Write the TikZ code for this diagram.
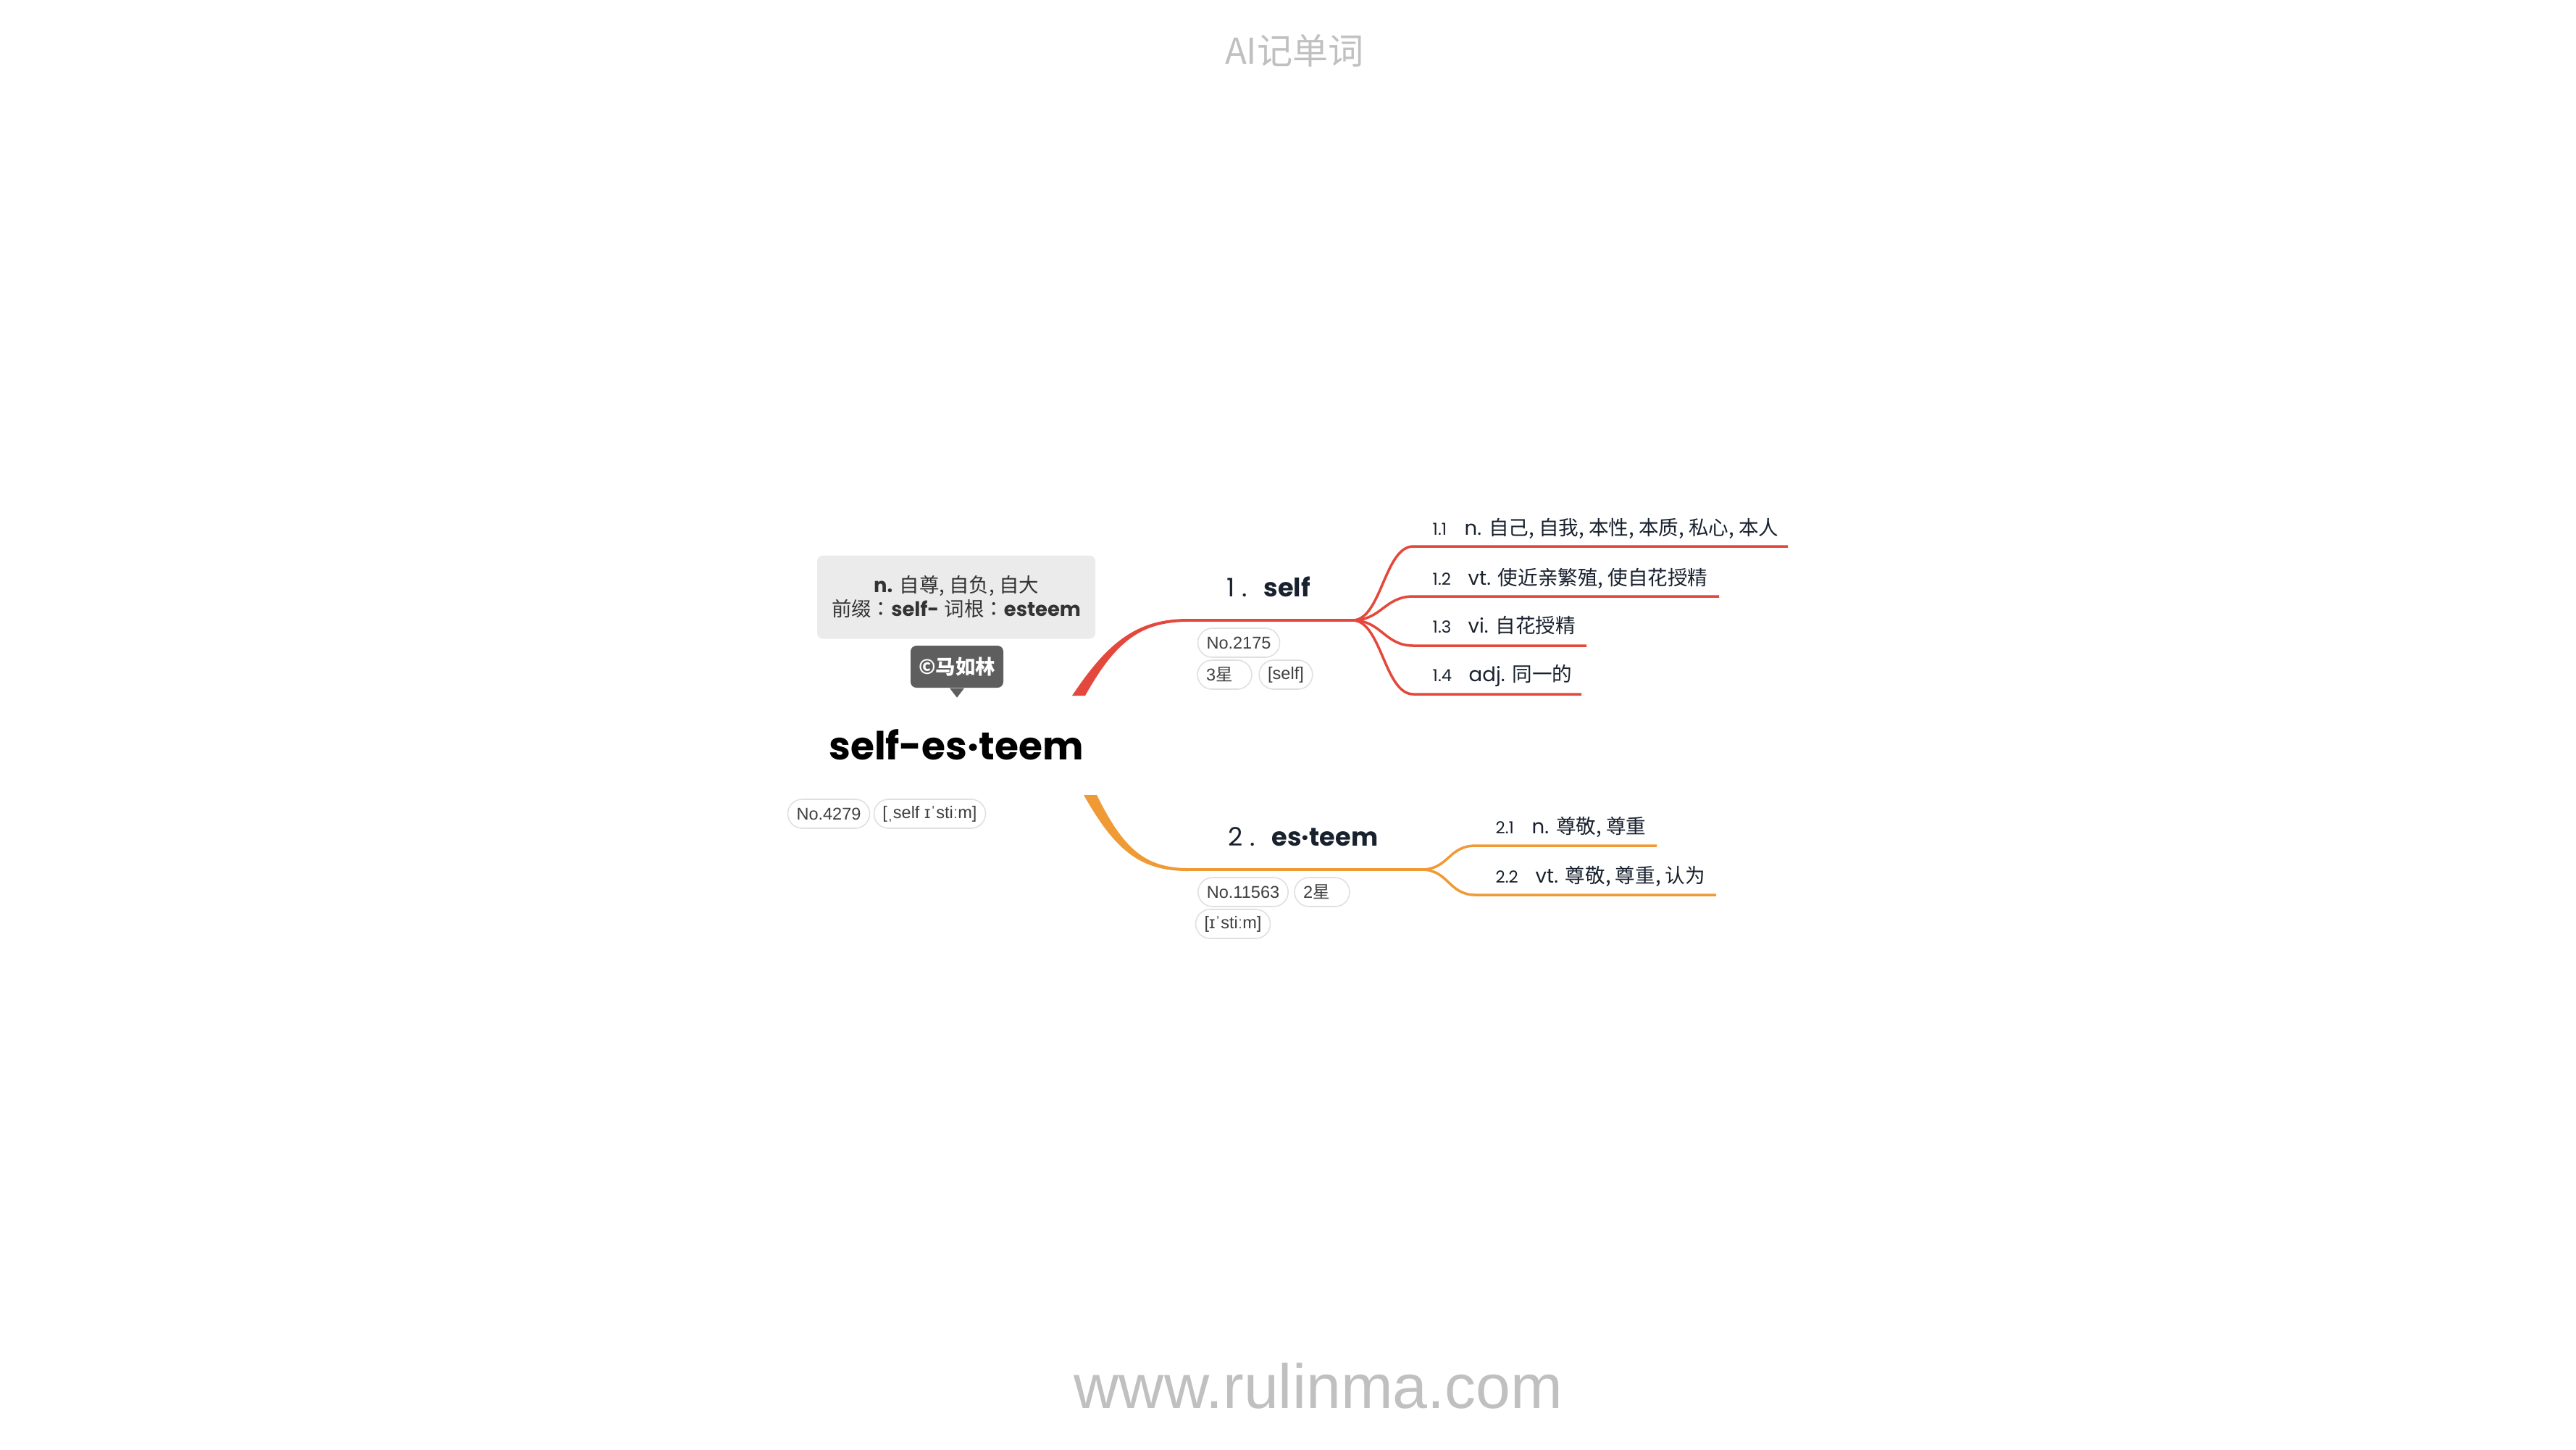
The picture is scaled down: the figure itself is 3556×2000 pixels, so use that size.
\documentclass[tikz,border=0pt]{standalone}
\usepackage{fontspec}
\setmainfont{Poppins}
\newfontfamily\zh{Noto Sans CJK SC}
\newfontfamily\zhtc{Noto Sans CJK TC}
\newfontfamily\hv{Liberation Sans}
\definecolor{selfred}{HTML}{E4483C}
\definecolor{esteemorange}{HTML}{F09A36}
\definecolor{pillline}{HTML}{E0E0E0}
\definecolor{pilltext}{HTML}{3F3F3F}
\definecolor{boxgray}{HTML}{EBEBEB}
\definecolor{taggray}{HTML}{5E5E5E}
\definecolor{navy}{HTML}{18212D}
\definecolor{marklight}{HTML}{C0C0C0}

\begin{document}
\begin{tikzpicture}[x=0.1mm, y=-0.1mm]
\tikzstyle{pill}=[draw=pillline, line width=0.45pt, rounded corners=2mm, minimum height=4mm, inner xsep=1.2mm, inner ysep=0pt, text=pilltext, font=\hv\fontsize{6.7}{8}\selectfont]
\tikzstyle{num}=[anchor=base west, inner sep=0pt, text=navy, font=\fontsize{6.5}{8}\selectfont]
\tikzstyle{sense}=[anchor=base west, inner sep=0pt, text=navy, font=\fontsize{7.85}{10}\selectfont]
\tikzstyle{topic}=[anchor=base west, inner sep=0pt, text=navy, font=\fontsize{10}{12}\selectfont]
\fill[white] (0,0) rectangle (3556,2000);
\useasboundingbox (0,0) rectangle (3556,2000);

\node[text=marklight, font=\zh\fontsize{14}{16}\selectfont] (brand) at (1787,70) {AI记单词};
\node[anchor=base, text=marklight, font=\hv\fontsize{24.5}{28}\selectfont] (site) at (1820,1943) {www.rulinma.com};

% root
\node[fill=boxgray, rounded corners=0.8mm, minimum width=38.4mm, minimum height=11.5mm, align=center, text=black!80, font=\fontsize{7.8}{9.4}\selectfont] (meaning) at (1320,824)
  {\textbf{n.} {\zh 自尊, 自负, 自大}\\{\zh 前缀}{\zhtc ：}\textbf{self-} {\zh 词根}{\zhtc ：}\textbf{esteem}};
\node[fill=taggray, rounded corners=0.8mm, minimum width=12.8mm, minimum height=5.8mm, inner sep=0pt, text=white, font=\zh\bfseries\fontsize{7.8}{9}\selectfont] (author) at (1321,920) {©马如林};
\fill[taggray] ([xshift=-1mm]author.south) -- ([xshift=1mm]author.south) -- ([yshift=-1.3mm]author.south) -- cycle;
\node[anchor=base, inner sep=0pt, font=\bfseries\fontsize{15.2}{18}\selectfont] (word) at (1320,1048) {self-es·teem};
\node[pill] (no4279) at (1144,1123) {No.4279};
\node[pill] (ipa) at (1283.5,1123) {[ˌself ɪˈstiːm]};

% branch 1
\coordinate (r1a) at (1480,960);
\coordinate (r1b) at (1498,960);
\coordinate (b1a) at (1640,854);
\coordinate (b1b) at (1640,858);
\coordinate (b1) at (1638,856);
\coordinate (f1) at (1867,856);
\fill[selfred] (r1a) .. controls +(50,-75) and +(-70,0) .. (b1a) -- (b1b) .. controls +(-65,0) and +(42,-75) .. (r1b) -- cycle;
\draw[selfred, line width=0.4mm] (b1) -- (f1);
\node[topic] (self) at (1693,823) {1 .\hspace{2.3mm}\textbf{self}};
\node[pill] (no2175) at (1710,887) {No.2175};
\node[pill, text width=5.1mm, align=left] (star1) at (1690.5,931) {3{\zh 星}};
\node[pill] (ipa1) at (1775,931) {[self]};

\coordinate (s11) at (1951,754);
\coordinate (e11) at (2468,754);
\coordinate (s12) at (1951,823);
\coordinate (e12) at (2373,823);
\coordinate (s13) at (1951,891);
\coordinate (e13) at (2190,891);
\coordinate (s14) at (1951,958);
\coordinate (e14) at (2183,958);
\draw[selfred, line width=0.35mm] (f1) .. controls +(40,0) and +(-40,0) .. (s11) -- (e11);
\draw[selfred, line width=0.35mm] (f1) .. controls +(40,0) and +(-40,0) .. (s12) -- (e12);
\draw[selfred, line width=0.35mm] (f1) .. controls +(40,0) and +(-40,0) .. (s13) -- (e13);
\draw[selfred, line width=0.35mm] (f1) .. controls +(40,0) and +(-40,0) .. (s14) -- (e14);
\node[num] (n11) at (1977,738) {1.1};
\node[sense] (t11) at (2021,738) {n. {\zh 自己, 自我, 本性, 本质, 私心, 本人}};
\node[num] (n12) at (1977,807) {1.2};
\node[sense] (t12) at (2026,807) {vt. {\zh 使近亲繁殖, 使自花授精}};
\node[num] (n13) at (1977,873) {1.3};
\node[sense] (t13) at (2026,873) {vi. {\zh 自花授精}};
\node[num] (n14) at (1977,940) {1.4};
\node[sense] (t14) at (2027,940) {adj. {\zh 同一的}};

% branch 2
\coordinate (o1a) at (1496,1097);
\coordinate (o1b) at (1514,1097);
\coordinate (b2a) at (1640,1202);
\coordinate (b2b) at (1640,1198);
\coordinate (b2) at (1638,1200);
\coordinate (f2) at (1962,1200);
\fill[esteemorange] (o1a) .. controls +(44,78) and +(-65,0) .. (b2a) -- (b2b) .. controls +(-60,0) and +(36,73) .. (o1b) -- cycle;
\draw[esteemorange, line width=0.4mm] (b2) -- (f2);
\node[topic] (esteem) at (1695,1167) {2 .\hspace{2.3mm}\textbf{es·teem}};
\node[pill] (no11563) at (1716,1231) {No.11563};
\node[pill, text width=5.2mm, align=left] (star2) at (1825,1231) {2{\zh 星}};
\node[pill] (ipa2) at (1702,1275) {[ɪˈstiːm]};

\coordinate (s21) at (2037,1167);
\coordinate (e21) at (2287,1167);
\coordinate (s22) at (2037,1235);
\coordinate (e22) at (2369,1235);
\draw[esteemorange, line width=0.35mm] (f2) .. controls +(38,0) and +(-38,0) .. (s21) -- (e21);
\draw[esteemorange, line width=0.35mm] (f2) .. controls +(38,0) and +(-38,0) .. (s22) -- (e22);
\node[num] (n21) at (2064,1150) {2.1};
\node[sense] (t21) at (2114,1150) {n. {\zh 尊敬, 尊重}};
\node[num] (n22) at (2064,1218) {2.2};
\node[sense] (t22) at (2119,1218) {vt. {\zh 尊敬, 尊重, 认为}};
\end{tikzpicture}
\end{document}
